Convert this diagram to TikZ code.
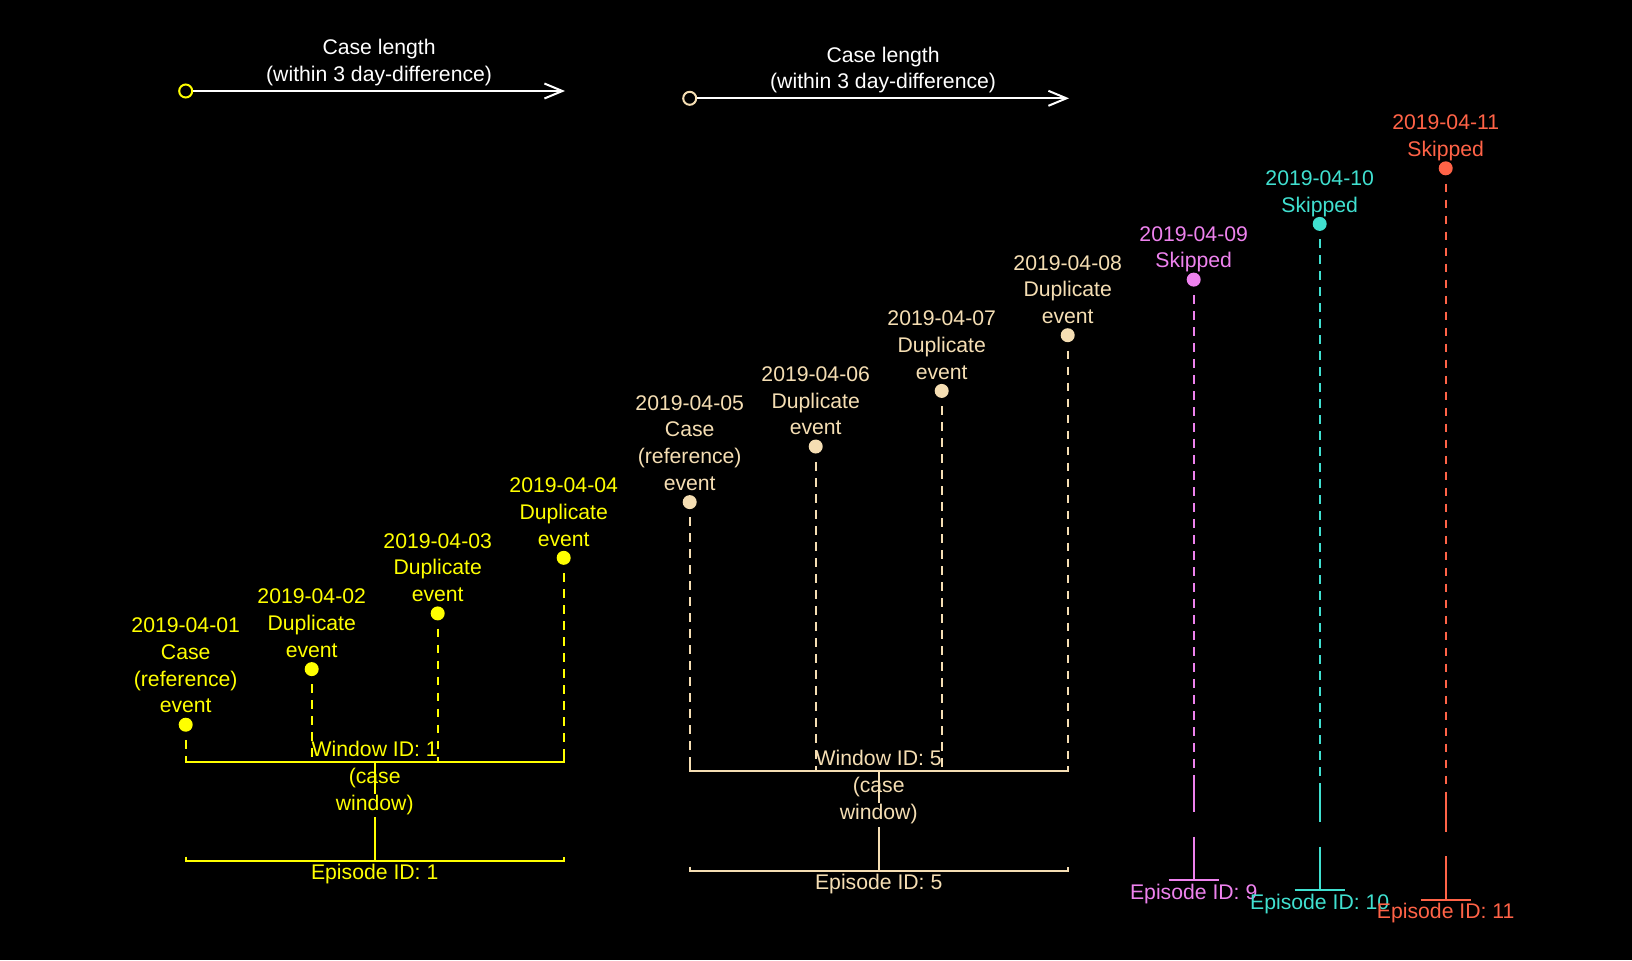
\documentclass[tikz,border=0pt]{standalone}
\usepackage{fontspec}
\setmainfont{Liberation Sans}
\usetikzlibrary{arrows.meta,positioning}

\definecolor{caseyel}{HTML}{FFFF00}
\definecolor{casewheat}{HTML}{F5DEB3}
\definecolor{skipviolet}{HTML}{EE82EE}
\definecolor{skipturq}{HTML}{40E0D0}
\definecolor{skiptomato}{HTML}{FF6347}
\newcommand\lblfont{\fontsize{10.6pt}{13.35pt}\selectfont}

\begin{document}
\begin{tikzpicture}[x=0.5pt,y=-0.5pt,line width=1pt,>={Straight Barb[length=9pt,width=7.5pt]},
  dot/.style={circle,fill,inner sep=0pt,minimum size=7pt},
  ring/.style={circle,draw,inner sep=0pt,minimum size=6.5pt},
  lbl/.style={align=center,inner sep=0pt,text depth=0pt,font=\lblfont},
  evline/.style={dash pattern=on 4.35pt off 3.65pt,dash phase=4.35pt}]

  \useasboundingbox[fill=black] (0,0) rectangle (1632,960);

  % events
  \node[dot,caseyel] (d1) at (185.7,724.7) {};
  \node[dot,caseyel] (d2) at (311.7,669.1) {};
  \node[dot,caseyel] (d3) at (437.7,613.4) {};
  \node[dot,caseyel] (d4) at (563.7,557.8) {};
  \node[dot,casewheat] (d5) at (689.7,502.1) {};
  \node[dot,casewheat] (d6) at (815.7,446.5) {};
  \node[dot,casewheat] (d7) at (941.7,390.9) {};
  \node[dot,casewheat] (d8) at (1067.7,335.2) {};
  \node[dot,skipviolet] (d9) at (1193.7,279.6) {};
  \node[dot,skipturq] (d10) at (1319.7,223.9) {};
  \node[dot,skiptomato] (d11) at (1445.7,168.3) {};

  \node[lbl,caseyel,above=1.4pt of d1] (l1) {2019-04-01\\Case\\(reference)\\event};
  \node[lbl,caseyel,above=1.4pt of d2] (l2) {2019-04-02\\Duplicate\\event};
  \node[lbl,caseyel,above=1.4pt of d3] (l3) {2019-04-03\\Duplicate\\event};
  \node[lbl,caseyel,above=1.4pt of d4] (l4) {2019-04-04\\Duplicate\\event};
  \node[lbl,casewheat,above=1.4pt of d5] (l5) {2019-04-05\\Case\\(reference)\\event};
  \node[lbl,casewheat,above=1.4pt of d6] (l6) {2019-04-06\\Duplicate\\event};
  \node[lbl,casewheat,above=1.4pt of d7] (l7) {2019-04-07\\Duplicate\\event};
  \node[lbl,casewheat,above=1.4pt of d8] (l8) {2019-04-08\\Duplicate\\event};
  \node[lbl,skipviolet,above=1.4pt of d9] (l9) {2019-04-09\\Skipped};
  \node[lbl,skipturq,above=1.4pt of d10] (l10) {2019-04-10\\Skipped};
  \node[lbl,skiptomato,above=1.4pt of d11] (l11) {2019-04-11\\Skipped};

  % windows and episodes
  \coordinate (w1l) at (185.7,761.7); \coordinate (w1m) at (374.7,761.7); \coordinate (w1r) at (563.7,761.7);
  \coordinate (e1l) at (185.7,860.7); \coordinate (e1m) at (374.7,860.7); \coordinate (e1r) at (563.7,860.7);
  \coordinate (w5l) at (689.7,770.7); \coordinate (w5m) at (878.7,770.7); \coordinate (w5r) at (1067.7,770.7);
  \coordinate (e5l) at (689.7,870.7); \coordinate (e5m) at (878.7,870.7); \coordinate (e5r) at (1067.7,870.7);
  \coordinate (w9m) at (1193.7,780.2);
  \coordinate (e9l) at (1168.7,880.2); \coordinate (e9m) at (1193.7,880.2); \coordinate (e9r) at (1218.7,880.2);
  \coordinate (w10m) at (1319.7,790);
  \coordinate (e10l) at (1294.7,890); \coordinate (e10m) at (1319.7,890); \coordinate (e10r) at (1344.7,890);
  \coordinate (w11m) at (1445.7,799.7);
  \coordinate (e11l) at (1420.7,899.7); \coordinate (e11m) at (1445.7,899.7); \coordinate (e11r) at (1470.7,899.7);

  \draw[evline,caseyel] (d1.south) -- (d1 |- w1l);
  \draw[evline,caseyel] (d2.south) -- (d2 |- w1l);
  \draw[evline,caseyel] (d3.south) -- (d3 |- w1l);
  \draw[evline,caseyel] (d4.south) -- (d4 |- w1l);
  \draw[evline,casewheat] (d5.south) -- (d5 |- w5l);
  \draw[evline,casewheat] (d6.south) -- (d6 |- w5l);
  \draw[evline,casewheat] (d7.south) -- (d7 |- w5l);
  \draw[evline,casewheat] (d8.south) -- (d8 |- w5l);
  \draw[evline,skipviolet] (d9.south) -- (w9m);
  \draw[evline,skipturq] (d10.south) -- (w10m);
  \draw[evline,skiptomato] (d11.south) -- (w11m);

  \draw[caseyel] ([yshift=2.5pt]w1l) -- (w1l) -- (w1r) -- ([yshift=2.5pt]w1r);
  \draw[caseyel] ([yshift=2pt]e1l) -- (e1l) -- (e1r) -- ([yshift=2pt]e1r);
  \draw[caseyel] (w1m) -- ([yshift=-16pt]w1m);
  \draw[caseyel] ([yshift=21.75pt]e1m) -- (e1m);
  \draw[casewheat] ([yshift=2.5pt]w5l) -- (w5l) -- (w5r) -- ([yshift=2.5pt]w5r);
  \draw[casewheat] ([yshift=2pt]e5l) -- (e5l) -- (e5r) -- ([yshift=2pt]e5r);
  \draw[casewheat] (w5m) -- ([yshift=-16pt]w5m);
  \draw[casewheat] ([yshift=21.75pt]e5m) -- (e5m);
  \draw[skipviolet] (w9m) -- ([yshift=-16pt]w9m);
  \draw[skipviolet] ([yshift=21.75pt]e9m) -- (e9m);
  \draw[skipviolet] (e9l) -- (e9r);
  \draw[skipturq] (w10m) -- ([yshift=-16pt]w10m);
  \draw[skipturq] ([yshift=21.75pt]e10m) -- (e10m);
  \draw[skipturq] (e10l) -- (e10r);
  \draw[skiptomato] (w11m) -- ([yshift=-16pt]w11m);
  \draw[skiptomato] ([yshift=21.75pt]e11m) -- (e11m);
  \draw[skiptomato] (e11l) -- (e11r);

  \node[lbl,caseyel,anchor=south] (wl1) at ([yshift=-24.8pt]w1m) {Window ID: 1\\(case\\window)};
  \node[lbl,casewheat,anchor=south] (wl5) at ([yshift=-24.8pt]w5m) {Window ID: 5\\(case\\window)};
  \node[lbl,caseyel,anchor=base] (el1) at ([yshift=-9.6pt]e1m) {Episode ID: 1};
  \node[lbl,casewheat,anchor=base] (el5) at ([yshift=-9.6pt]e5m) {Episode ID: 5};
  \node[lbl,skipviolet,anchor=base] (el9) at ([yshift=-9.6pt]e9m) {Episode ID: 9};
  \node[lbl,skipturq,anchor=base] (el10) at ([yshift=-9.6pt]e10m) {Episode ID: 10};
  \node[lbl,skiptomato,anchor=base] (el11) at ([yshift=-9.6pt]e11m) {Episode ID: 11};

  % case lengths
  \node[ring,caseyel] (c1) at (185.7,91) {};
  \coordinate (t1) at (565,91);
  \node[ring,casewheat] (c5) at (689.7,98.3) {};
  \coordinate (t5) at (1069,98.3);
  \draw[->,white] (c1) -- node[lbl,anchor=south,yshift=4.2pt] (cl1) {Case length\\(within 3 day-difference)} (t1);
  \draw[->,white] (c5) -- node[lbl,anchor=south,yshift=4.2pt] (cl5) {Case length\\(within 3 day-difference)} (t5);
\end{tikzpicture}
\end{document}
